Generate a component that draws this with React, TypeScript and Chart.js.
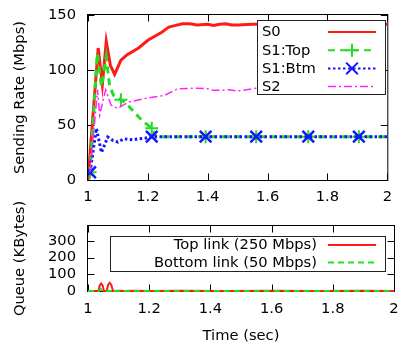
import React, { useEffect, useRef } from "react";
import { Chart, registerables } from "chart.js";
Chart.register(...registerables);

const FONT = "'DejaVu Sans', 'Liberation Sans', sans-serif";
const FS = 14.7;

const xTicks = [1, 1.2, 1.4, 1.6, 1.8, 2];
const xTickLabels = ["1", "1.2", "1.4", "1.6", "1.8", "2"];
const rateTicks = [0, 50, 100, 150];
const queueTicks = [0, 100, 200, 300];

// Sending rate (Mbps)
const s0Time = [1.0, 1.034, 1.048, 1.061, 1.075, 1.089, 1.11, 1.131, 1.169, 1.2, 1.245, 1.27, 1.3, 1.316, 1.34, 1.365, 1.4, 1.42, 1.44, 1.46, 1.48, 1.5, 1.55, 1.6, 1.7, 1.8, 1.9, 2.0];
const s0Rate = [0, 120, 87, 126, 104, 96, 109, 114, 120, 127, 134, 139, 141, 142, 142, 141, 141.5, 140.5, 141.5, 142, 141, 141, 141.5, 141.5, 141.5, 141.5, 141.5, 141.5];

const s1TopTime = [1.007, 1.031, 1.045, 1.061, 1.072, 1.085, 1.11, 1.13, 1.15, 1.17, 1.19, 1.213, 1.228, 1.3, 1.393, 1.5, 1.562, 1.65, 1.736, 1.8, 1.905, 2.0];
const s1TopRate = [7, 115, 85, 112, 86, 77, 73, 69, 63, 57, 52, 47, 39.4, 39.4, 39.4, 39.4, 39.4, 39.4, 39.4, 39.4, 39.4, 39.4];
const s1TopMarks = [1.007, 1.11, 1.213, 1.393, 1.562, 1.736, 1.905];

const s1BtmTime = [1.007, 1.028, 1.045, 1.066, 1.083, 1.1, 1.12, 1.15, 1.17, 1.19, 1.213, 1.25, 1.3, 1.393, 1.5, 1.562, 1.65, 1.736, 1.8, 1.905, 2.0];
const s1BtmRate = [7, 47, 25, 39, 36, 34.5, 37.5, 36.5, 37.5, 38, 39.4, 39.4, 39.4, 39.4, 39.4, 39.4, 39.4, 39.4, 39.4, 39.4, 39.4];
const s1BtmMarks = [1.007, 1.213, 1.393, 1.562, 1.736, 1.905];

const s2Time = [1.007, 1.032, 1.039, 1.059, 1.077, 1.099, 1.137, 1.19, 1.256, 1.3, 1.365, 1.4, 1.42, 1.44, 1.47, 1.5, 1.53, 1.56, 1.65, 1.8, 2.0];
const s2Rate = [7, 82, 59, 82, 68, 65, 71, 74, 77, 83, 83.5, 83, 81.5, 81.5, 82, 81, 82, 83.5, 83.5, 83.5, 83.5];

// Queue (KBytes)
const topQTime = [1.0, 1.034, 1.038, 1.043, 1.048, 1.052, 1.061, 1.066, 1.071, 1.076, 1.082, 1.1, 1.12, 1.15, 1.2, 1.3, 1.45, 1.6, 1.75, 1.9, 2.0];
const topQ = [0, 0, 32, 45, 32, 0, 0, 38, 49, 38, 0, 2, 0, 2, 0, 1, 0, 1, 0, 1, 0];
const botQTime = [1.0, 1.036, 1.041, 1.046, 1.075, 1.081, 1.087, 1.1, 1.5, 2.0];
const botQ = [0, 0, 12, 0, 0, 14, 0, 0, 0, 0];

const RED = "#ff1a1a";
const GREEN = "#22dd22";
const BLUE = "#1414ff";
const MAGENTA = "#ff22ff";

const pts = (t: number[], v: number[]) => t.map((x, i) => ({ x, y: v[i] }));
const markR = (marks: number[], r: number) => (c: any) => {
  const p = c.raw;
  return p && marks.some((m) => Math.abs(m - p.x) < 1e-6) ? r : 0;
};

function drawMarker(ctx: CanvasRenderingContext2D, cx: number, cy: number, type: string, r: number, color: string) {
  ctx.save();
  ctx.setLineDash([]);
  ctx.strokeStyle = color;
  ctx.lineWidth = 2;
  ctx.beginPath();
  if (type === "plus") {
    ctx.moveTo(cx - r, cy); ctx.lineTo(cx + r, cy);
    ctx.moveTo(cx, cy - r); ctx.lineTo(cx, cy + r);
  } else {
    const d = r * 0.7071;
    ctx.moveTo(cx - d, cy - d); ctx.lineTo(cx + d, cy + d);
    ctx.moveTo(cx - d, cy + d); ctx.lineTo(cx + d, cy - d);
  }
  ctx.stroke();
  ctx.restore();
}

function frameTicks(yTicks: number[], len: number) {
  return {
    id: "frameTicks",
    beforeDatasetsDraw(chart: any) {
      const { ctx, chartArea: a, scales } = chart;
      ctx.save();
      ctx.strokeStyle = "#000";
      ctx.lineWidth = 1;
      const L = a.left - 0.5, R = a.right + 0.5, T = a.top - 0.5, B = a.bottom + 0.5;
      ctx.strokeRect(L, T, R - L, B - T);
      ctx.beginPath();
      for (const v of xTicks) {
        const px = Math.round(scales.x.getPixelForValue(v)) + 0.5;
        ctx.moveTo(px, B); ctx.lineTo(px, B - len);
        ctx.moveTo(px, T); ctx.lineTo(px, T + len);
      }
      for (const v of yTicks) {
        const py = Math.round(scales.y.getPixelForValue(v)) + 0.5;
        ctx.moveTo(L, py); ctx.lineTo(L + len, py);
        ctx.moveTo(R, py); ctx.lineTo(R - len, py);
      }
      ctx.stroke();
      ctx.restore();
    },
  };
}

type LegendItem = { label: string; color: string; width: number; dash: number[]; marker?: string; mr?: number };

function legendPlugin(box: { x: number; y: number; w: number; h: number }, items: LegendItem[], rows: number[], textX: number, align: CanvasTextAlign, sx1: number, sx2: number) {
  return {
    id: "boxLegend",
    afterDraw(chart: any) {
      const ctx: CanvasRenderingContext2D = chart.ctx;
      ctx.save();
      ctx.fillStyle = "#fff";
      ctx.fillRect(box.x, box.y, box.w, box.h);
      ctx.strokeStyle = "#222";
      ctx.lineWidth = 1;
      ctx.strokeRect(box.x, box.y, box.w, box.h);
      ctx.font = `${FS}px ${FONT}`;
      ctx.fillStyle = "#000";
      ctx.textBaseline = "middle";
      ctx.textAlign = align;
      items.forEach((it, i) => {
        const y = rows[i];
        ctx.fillText(it.label, textX, y + 0.5);
        ctx.save();
        ctx.strokeStyle = it.color;
        ctx.lineWidth = it.width;
        ctx.setLineDash(it.dash);
        ctx.beginPath();
        ctx.moveTo(sx1, y);
        ctx.lineTo(sx2, y);
        ctx.stroke();
        ctx.restore();
        if (it.marker) drawMarker(ctx, (sx1 + sx2) / 2, y, it.marker, it.mr || 6, it.color);
      });
      ctx.restore();
    },
  };
}

const tickFont = { family: FONT, size: FS };

function xScale(height: number, pad: number, title?: any) {
  return {
    type: "linear",
    min: 1,
    max: 2,
    afterBuildTicks: (s: any) => { s.ticks = xTicks.map((v) => ({ value: v })); },
    afterFit: (s: any) => { s.height = height; s.paddingLeft = 0; s.paddingRight = 0; },
    ticks: {
      autoSkip: false, maxRotation: 0, minRotation: 0, padding: pad, color: "#000", font: tickFont,
      callback: (v: number) => xTickLabels[xTicks.findIndex((t) => Math.abs(t - v) < 1e-9)] ?? "",
    },
    grid: { display: false, drawTicks: false },
    border: { display: false },
    title: title || { display: false },
  };
}

function yScale(min: number, max: number, ticks: number[], text: string) {
  return {
    type: "linear",
    min,
    max,
    afterBuildTicks: (s: any) => { s.ticks = ticks.map((v) => ({ value: v })); },
    afterFit: (s: any) => { s.width = 88; s.paddingTop = 0; s.paddingBottom = 0; },
    ticks: { padding: 12, color: "#000", font: tickFont, callback: (v: number) => String(v) },
    grid: { display: false, drawTicks: false },
    border: { display: false },
    title: { display: true, text, color: "#000", font: { family: FONT, size: FS }, padding: { top: 11.2, bottom: 0 } },
  };
}

function topConfig(): any {
  return {
    type: "line",
    data: {
      datasets: [
        { label: "S0", data: pts(s0Time, s0Rate), borderColor: RED, borderWidth: 3, pointRadius: 0, order: 4 },
        {
          label: "S1:Top", data: pts(s1TopTime, s1TopRate), borderColor: GREEN, borderWidth: 3, borderDash: [7, 5], order: 3,
          pointStyle: "cross", pointRadius: markR(s1TopMarks, 6.5), pointBorderColor: GREEN, pointBackgroundColor: GREEN, pointBorderWidth: 2,
        },
        {
          label: "S1:Btm", data: pts(s1BtmTime, s1BtmRate), borderColor: BLUE, borderWidth: 3, borderDash: [2.5, 2.5], order: 2,
          pointStyle: "crossRot", pointRadius: markR(s1BtmMarks, 8.2), pointBorderColor: BLUE, pointBackgroundColor: BLUE, pointBorderWidth: 2.5,
        },
        { label: "S2", data: pts(s2Time, s2Rate), borderColor: MAGENTA, borderWidth: 1.5, borderDash: [8, 3, 2, 3], pointRadius: 0, order: 1 },
      ],
    },
    options: {
      responsive: false,
      animation: false,
      layout: { padding: { left: 0, right: 4, top: 15, bottom: 0 } },
      elements: { line: { tension: 0, fill: false } },
      plugins: { legend: { display: false }, tooltip: { enabled: false } },
      scales: {
        x: xScale(171, 8),
        y: yScale(0, 150, rateTicks, "Sending Rate (Mbps)"),
      },
    },
    plugins: [
      frameTicks(rateTicks, 7),
      legendPlugin(
        { x: 257.5, y: 20.5, w: 128, h: 74 },
        [
          { label: "S0", color: RED, width: 2, dash: [] },
          { label: "S1:Top", color: GREEN, width: 2, dash: [7, 5], marker: "plus", mr: 6.5 },
          { label: "S1:Btm", color: BLUE, width: 2, dash: [2.5, 2.5], marker: "x", mr: 8.2 },
          { label: "S2", color: MAGENTA, width: 1.5, dash: [8, 3, 2, 3] },
        ],
        [32, 50.2, 68.4, 86.6],
        262,
        "left",
        328,
        376
      ),
    ],
  };
}

function botConfig(): any {
  return {
    type: "line",
    data: {
      datasets: [
        { label: "Top link (250 Mbps)", data: pts(topQTime, topQ), borderColor: RED, borderWidth: 2, pointRadius: 0, order: 2, clip: false },
        { label: "Bottom link (50 Mbps)", data: pts(botQTime, botQ), borderColor: GREEN, borderWidth: 2, borderDash: [6, 4], pointRadius: 0, order: 1, clip: false },
      ],
    },
    options: {
      responsive: false,
      animation: false,
      layout: { padding: { left: 0, right: 4, top: 226, bottom: 0 } },
      elements: { line: { tension: 0, fill: false } },
      plugins: { legend: { display: false }, tooltip: { enabled: false } },
      scales: {
        x: xScale(60, 9.2, { display: true, text: "Time (sec)", color: "#000", font: { family: FONT, size: FS }, padding: { top: 0, bottom: 6.5 } }),
        y: yScale(0, 390, queueTicks, "Queue (KBytes)"),
      },
    },
    plugins: [
      frameTicks(queueTicks, 7),
      legendPlugin(
        { x: 110.5, y: 236.5, w: 275, h: 35 },
        [
          { label: "Top link (250 Mbps)", color: RED, width: 2, dash: [] },
          { label: "Bottom link (50 Mbps)", color: GREEN, width: 2, dash: [6, 4] },
        ],
        [245, 262.5],
        317,
        "right",
        328,
        376
      ),
    ],
  };
}

export default function App() {
  const topRef = useRef<HTMLCanvasElement>(null);
  const botRef = useRef<HTMLCanvasElement>(null);
  useEffect(() => {
    Chart.defaults.font.family = FONT;
    const c1 = new Chart(topRef.current as HTMLCanvasElement, topConfig());
    const c2 = new Chart(botRef.current as HTMLCanvasElement, botConfig());
    return () => {
      c1.destroy();
      c2.destroy();
    };
  }, []);
  return (
    <div style={{ position: "absolute", left: 0, top: 0, width: 398, height: 351, background: "#fff" }}>
      <canvas ref={topRef} width={398} height={351} style={{ position: "absolute", left: 0, top: 0 }} />
      <canvas ref={botRef} width={398} height={351} style={{ position: "absolute", left: 0, top: 0 }} />
    </div>
  );
}
